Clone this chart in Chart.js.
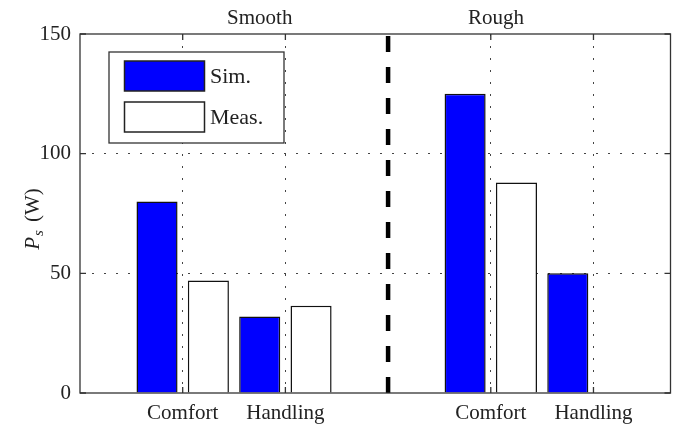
<!DOCTYPE html>
<html>
<head>
<meta charset="utf-8">
<script src="https://cdn.jsdelivr.net/npm/chart.js@4"></script>
<style>
  html, body { margin: 0; padding: 0; background: #fff; }
  #wrap { width: 678px; height: 428px; }
</style>
</head>
<body>
<div id="wrap"><canvas id="grafico"></canvas></div>
<script>
// posiciones de las categorias en el eje x (hueco en 3 para la linea de separacion)
var posiciones = [1, 2, 4, 5];
var categorias = ['Comfort', 'Handling', 'Comfort', 'Handling'];
var simulado = [80, 32, 125, 50];
var medido = [47, 36.5, 88, null];
var grupos = ['Smooth', 'Rough'];
var centrosGrupos = [1.75, 4.05];
var separador = 3;
var yTicks = [0, 50, 100, 150];

var FUENTE = '"Liberation Serif", "Times New Roman", serif';

function puntos(valores) {
  return posiciones.map((p, i) => ({ x: p, y: valores[i] }));
}

// marco, marcas hacia dentro, separador, leyenda y textos
var decoracion = {
  id: 'decoracion',
  afterDatasetsDraw(chart) {
    var ctx = chart.ctx, a = chart.chartArea, xs = chart.scales.x;
    var xp = xs.getPixelForValue(separador);
    ctx.save();
    ctx.strokeStyle = '#000';
    ctx.lineWidth = 4.5;
    ctx.setLineDash([16, 15]);
    ctx.beginPath();
    ctx.moveTo(xp, a.bottom);
    ctx.lineTo(xp, a.top);
    ctx.stroke();
    ctx.restore();
  },
  afterDraw(chart) {
    var ctx = chart.ctx, a = chart.chartArea;
    var xs = chart.scales.x, ys = chart.scales.y;
    ctx.save();
    // marco
    ctx.strokeStyle = '#333';
    ctx.lineWidth = 1.3;
    ctx.strokeRect(a.left, a.top, a.right - a.left, a.bottom - a.top);
    // marcas
    ctx.beginPath();
    for (var p of posiciones) {
      var x = xs.getPixelForValue(p);
      ctx.moveTo(x, a.bottom); ctx.lineTo(x, a.bottom - 6);
      ctx.moveTo(x, a.top); ctx.lineTo(x, a.top + 6);
    }
    for (var v of yTicks) {
      var y = ys.getPixelForValue(v);
      ctx.moveTo(a.left, y); ctx.lineTo(a.left + 6, y);
      ctx.moveTo(a.right, y); ctx.lineTo(a.right - 6, y);
    }
    ctx.stroke();

    // textos de grupo arriba
    ctx.fillStyle = '#222';
    ctx.font = '21px ' + FUENTE;
    ctx.textAlign = 'center';
    ctx.textBaseline = 'alphabetic';
    grupos.forEach((g, i) => {
      ctx.fillText(g, xs.getPixelForValue(centrosGrupos[i]), 23.5);
    });

    // leyenda
    var lx = 109, ly = 52, lw = 175, lh = 91;
    ctx.fillStyle = '#fff';
    ctx.fillRect(lx, ly, lw, lh);
    ctx.strokeStyle = '#333';
    ctx.lineWidth = 1.3;
    ctx.strokeRect(lx, ly, lw, lh);
    ctx.font = '22px ' + FUENTE;
    chart.data.datasets.forEach((ds, i) => {
      var sy = 61 + i * 41;
      ctx.fillStyle = ds.backgroundColor;
      ctx.fillRect(124.5, sy, 80, 30);
      ctx.strokeStyle = '#222';
      ctx.lineWidth = 1.5;
      ctx.strokeRect(124.5, sy, 80, 30);
      ctx.fillStyle = '#222';
      ctx.textAlign = 'left';
      ctx.textBaseline = 'middle';
      ctx.fillText(ds.label, 210, sy + 16);
    });

    // etiqueta del eje y: P_s (W)
    ctx.translate(32, 219);
    ctx.rotate(-Math.PI / 2);
    ctx.textBaseline = 'alphabetic';
    ctx.textAlign = 'left';
    var fP = 'italic 21px ' + FUENTE, fS = 'italic 15px ' + FUENTE, fW = '21px ' + FUENTE;
    ctx.font = fP; var wP = ctx.measureText('P').width + 1;
    ctx.font = fS; var wS = ctx.measureText('s').width + 3;
    ctx.font = fW; var wW = ctx.measureText(' (W)').width;
    var x0 = -(wP + wS + wW) / 2;
    ctx.fillStyle = '#222';
    ctx.font = fP; ctx.fillText('P', x0, 7);
    ctx.font = fS; ctx.fillText('s', x0 + wP, 11);
    ctx.font = fW; ctx.fillText(' (W)', x0 + wP + wS, 7);
    ctx.restore();
  }
};

var ctx = document.getElementById('grafico').getContext('2d');
new Chart(ctx, {
  type: 'bar',
  data: {
    datasets: [
      {
        label: 'Sim.',
        data: puntos(simulado),
        backgroundColor: '#0000ff',
        borderColor: '#111',
        borderWidth: 1.5
      },
      {
        label: 'Meas.',
        data: puntos(medido),
        backgroundColor: '#ffffff',
        borderColor: '#111',
        borderWidth: 1.5
      }
    ]
  },
  options: {
    responsive: true,
    maintainAspectRatio: false,
    animation: false,
    layout: { padding: { top: 34, right: 7.5, left: 0, bottom: 0 } },
    datasets: { bar: { categoryPercentage: 1.0, barPercentage: 0.8 } },
    plugins: {
      legend: { display: false },
      tooltip: { enabled: false }
    },
    scales: {
      x: {
        type: 'linear',
        min: 0,
        max: 5.75,
        offset: false,
        grid: { offset: false, color: '#444', lineWidth: 1, drawTicks: false },
        border: { display: false, dash: [2, 10] },
        afterBuildTicks: function(scale) {
          scale.ticks = posiciones.map(p => ({ value: p }));
        },
        afterFit: function(scale) { scale.height = 35; },
        ticks: {
          padding: 8,
          color: '#222',
          font: { family: FUENTE, size: 21 },
          maxRotation: 0,
          autoSkip: false,
          callback: function(value) {
            var i = posiciones.indexOf(value);
            return i >= 0 ? categorias[i] : '';
          }
        }
      },
      y: {
        min: 0,
        max: 150,
        grid: {
          color: function(c) {
            return (c.tick && (c.tick.value === 0 || c.tick.value === 150)) ? 'rgba(0,0,0,0)' : '#444';
          },
          lineWidth: 1,
          drawTicks: false
        },
        border: { display: false, dash: [2, 10] },
        afterBuildTicks: function(scale) {
          scale.ticks = yTicks.map(v => ({ value: v }));
        },
        afterFit: function(scale) { scale.width = 80; },
        ticks: {
          padding: 9,
          color: '#222',
          font: { family: FUENTE, size: 21 }
        }
      }
    }
  },
  plugins: [decoracion]
});
</script>
</body>
</html>
